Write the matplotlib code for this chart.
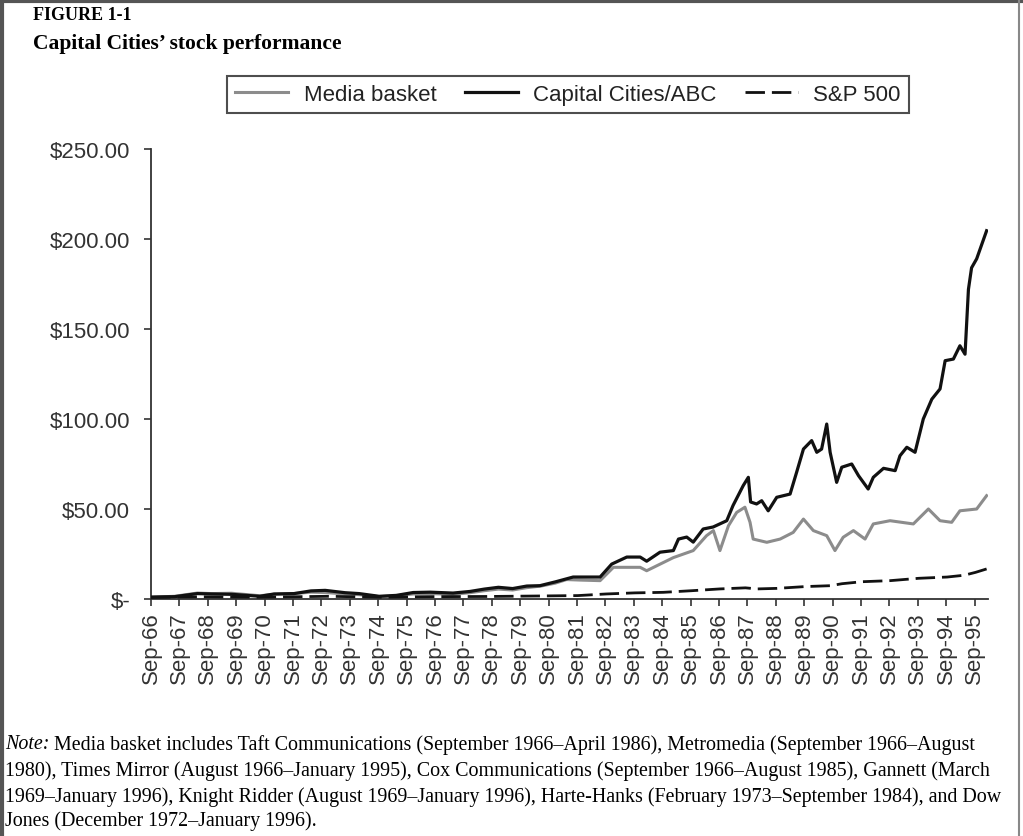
import matplotlib
matplotlib.use("Agg")
import matplotlib.pyplot as plt
from matplotlib.lines import Line2D

# values, $1 invested in Sep-66 (x in fractional years)
cap_years = [1966.67, 1967.5, 1968.3, 1968.8, 1969.5, 1970.5, 1971.0, 1971.7, 1972.3, 1972.8,
             1973.5, 1974.0, 1974.7, 1975.3, 1975.9, 1976.5, 1977.3, 1977.9, 1978.4, 1978.9,
             1979.4, 1979.9, 1980.36, 1980.9, 1981.53, 1982.48, 1982.89, 1983.42, 1983.89, 1984.12,
             1984.59, 1985.06, 1985.24, 1985.53, 1985.76, 1986.11, 1986.46, 1986.94, 1987.16, 1987.52,
             1987.70, 1987.78, 1987.99, 1988.17, 1988.40, 1988.70, 1989.17, 1989.40, 1989.64, 1989.93,
             1990.11, 1990.28, 1990.46, 1990.58, 1990.81, 1990.99, 1991.34, 1991.58, 1991.92, 1992.10,
             1992.46, 1992.87, 1993.04, 1993.28, 1993.57, 1993.86, 1994.16, 1994.45, 1994.63, 1994.92,
             1995.15, 1995.33, 1995.45, 1995.56, 1995.74, 1996.09]
cap_values = [1.0, 1.3, 3.0, 2.8, 2.6, 1.5, 2.8, 3.0, 4.5, 4.8,
              3.5, 3.0, 1.5, 2.0, 3.6, 3.8, 3.3, 4.2, 5.5, 6.5,
              5.8, 7.2, 7.4, 9.5, 12.2, 12.2, 19.4, 23.3, 23.3, 21.0,
              26.0, 26.9, 33.3, 34.4, 31.6, 38.9, 40.0, 43.5, 51.9, 63.0,
              67.6, 53.9, 52.8, 54.6, 49.0, 56.5, 58.3, 70.4, 83.3, 88.0,
              81.5, 83.3, 97.2, 81.5, 64.8, 73.2, 75.0, 68.5, 61.1, 67.6,
              72.6, 71.3, 79.6, 84.3, 81.5, 100.0, 111.0, 116.7, 132.4, 133.3,
              140.7, 136.0, 172.0, 184.0, 189.0, 204.6]

media_years = [1966.67, 1967.5, 1968.3, 1968.8, 1969.5, 1970.5, 1971.0, 1971.7, 1972.3, 1972.8,
               1973.5, 1974.0, 1974.7, 1975.3, 1975.9, 1976.5, 1977.3, 1977.9, 1978.4, 1978.9,
               1979.4, 1979.9, 1980.4, 1980.9, 1981.3, 1981.8, 1982.48, 1982.95, 1983.89, 1984.12,
               1985.06, 1985.76, 1986.23, 1986.47, 1986.70, 1987.0, 1987.29, 1987.58, 1987.76, 1987.87,
               1988.35, 1988.82, 1989.28, 1989.64, 1989.99, 1990.46, 1990.75, 1991.04, 1991.40, 1991.81,
               1992.10, 1992.69, 1993.51, 1994.04, 1994.45, 1994.86, 1995.15, 1995.74, 1996.09]
media_values = [1.0, 1.5, 3.3, 3.0, 3.2, 1.8, 2.6, 3.0, 3.8, 3.6,
                2.8, 2.4, 1.3, 1.8, 2.8, 3.0, 2.6, 3.5, 4.6, 5.5,
                5.0, 6.3, 7.2, 8.8, 10.8, 10.5, 10.2, 17.6, 17.6, 15.7,
                23.0, 26.9, 35.2, 38.0, 26.9, 40.7, 48.1, 51.0, 42.6, 33.3,
                31.5, 33.3, 37.0, 44.4, 38.0, 35.2, 26.9, 34.3, 38.0, 33.3,
                41.7, 43.5, 41.7, 50.0, 43.5, 42.6, 49.0, 50.0, 57.4]

sp_years = [1966.67, 1968.5, 1970.5, 1972.9, 1974.8, 1976.5, 1978.5, 1980.5, 1981.7, 1982.7,
            1983.7, 1984.7, 1985.7, 1986.7, 1987.6, 1988.0, 1988.7, 1989.7, 1990.6, 1991.0,
            1991.7, 1992.7, 1993.7, 1994.7, 1995.3, 1995.7, 1996.09]
sp_values = [1.0, 1.2, 1.0, 1.5, 1.0, 1.3, 1.4, 1.7, 1.9, 2.8,
             3.4, 3.7, 4.6, 5.6, 6.2, 5.6, 5.9, 6.9, 7.4, 8.5,
             9.6, 10.2, 11.5, 12.2, 13.2, 14.8, 16.7]

x_tick_labels = ["Sep-%02d" % (y % 100) for y in range(1966, 1996)]
y_ticks = [0, 50, 100, 150, 200, 250]
y_tick_labels = ["$-", "$50.00", "$100.00", "$150.00", "$200.00", "$250.00"]

serif = "Liberation Serif"
sans = "Liberation Sans"

fig = plt.figure(figsize=(10.23, 8.37), dpi=100)
ax = fig.add_axes([151 / 1023, 1 - 600 / 837, 837 / 1023, 450 / 837])

ax.plot(media_years, media_values, color="#8c8c8c", lw=2.2, label="Media basket", zorder=2)
ax.plot(cap_years, cap_values, color="#111111", lw=2.3, label="Capital Cities/ABC", zorder=3)
ax.plot(sp_years, sp_values, color="#111111", lw=2.0, dashes=(7, 2.5), label="S&P 500", zorder=4)

ax.set_xlim(1966.667, 1966.667 + 837 / 28.4)
ax.set_ylim(0, 250)
ax.set_xticks([1966.667 + i for i in range(len(x_tick_labels))])
ax.set_xticklabels(x_tick_labels, rotation=90, fontsize=16, family=sans, color="#333333")
ax.set_yticks(y_ticks)
ax.set_yticklabels(y_tick_labels, fontsize=16, family=sans, color="#333333")
ax.tick_params(axis="both", direction="out", length=5, width=1.2, color="#333333")
ax.tick_params(axis="y", pad=10)
ax.tick_params(axis="x", pad=4)
for s in ["top", "right"]:
    ax.spines[s].set_visible(False)
for s in ["left", "bottom"]:
    ax.spines[s].set_linewidth(1.3)
    ax.spines[s].set_color("#333333")

leg = fig.legend(loc="center", bbox_to_anchor=(568 / 1023, 1 - 95.5 / 837), ncol=3,
                 prop={"family": sans, "size": 16}, frameon=True, fancybox=False,
                 edgecolor="#222222", handlelength=2.4, handletextpad=0.7,
                 columnspacing=1.25, borderpad=0.35, borderaxespad=0)
leg.get_frame().set_linewidth(1.5)
for txt in leg.get_texts():
    txt.set_color("#222222")

fig.text(33 / 1023, 1 - 15 / 837, "FIGURE 1-1", family=serif, weight="bold", fontsize=13,
         va="center", ha="left")
fig.text(33 / 1023, 1 - 44 / 837, "Capital Cities\u2019 stock performance", family=serif,
         weight="bold", fontsize=15.5, va="center", ha="left")

note_lines = [
    " Media basket includes Taft Communications (September 1966\u2013April 1986), Metromedia (September 1966\u2013August",
    "1980), Times Mirror (August 1966\u2013January 1995), Cox Communications (September 1966\u2013August 1985), Gannett (March",
    "1969\u2013January 1996), Knight Ridder (August 1969\u2013January 1996), Harte-Hanks (February 1973\u2013September 1984), and Dow",
    "Jones (December 1972\u2013January 1996).",
]
note_y = [745, 771, 797, 821]
note_size = 14.4
fig.canvas.draw()
r = fig.canvas.get_renderer()
t = fig.text(5 / 1023, 1 - note_y[0] / 837, "Note:", family=serif, style="italic",
             fontsize=note_size, va="center", ha="left")
w = t.get_window_extent(renderer=r).width
fig.text((5 + w) / 1023, 1 - note_y[0] / 837, note_lines[0], family=serif, fontsize=note_size,
         va="center", ha="left")
for line, yy in zip(note_lines[1:], note_y[1:]):
    fig.text(5 / 1023, 1 - yy / 837, line, family=serif, fontsize=note_size, va="center", ha="left")

# page frame seen at the edges of the scan
fig.add_artist(Line2D([0.002, 0.002], [0, 1], transform=fig.transFigure, color="#555555", lw=3))
fig.add_artist(Line2D([0, 1], [0.998, 0.998], transform=fig.transFigure, color="#555555", lw=3))
fig.add_artist(Line2D([0.996, 0.996], [0, 1], transform=fig.transFigure, color="#888888", lw=1.5))

fig.savefig("out.png", dpi=100)
